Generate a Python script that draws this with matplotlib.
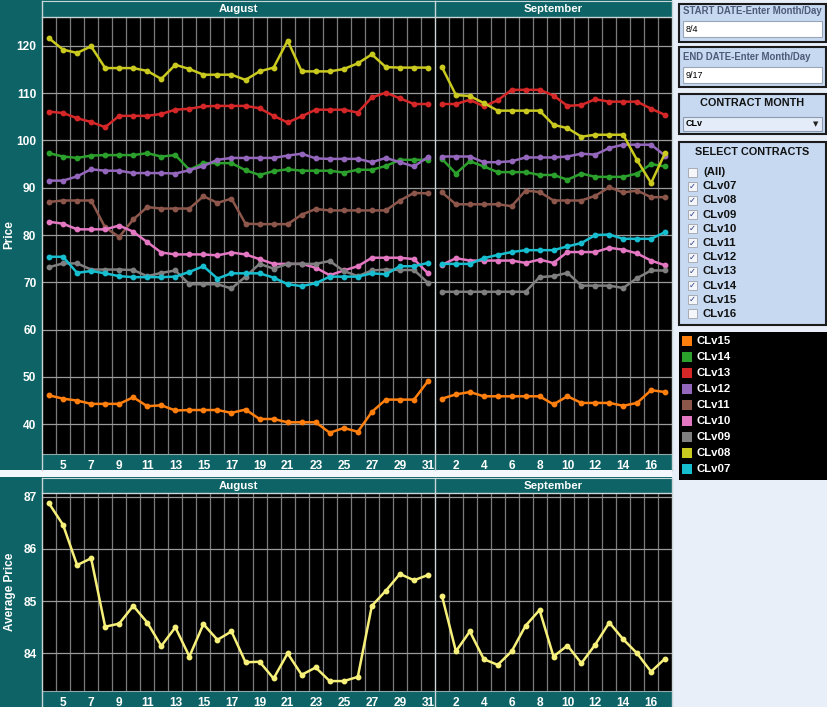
import matplotlib
matplotlib.use('Agg')
import matplotlib.pyplot as plt
from matplotlib.patches import Rectangle
from matplotlib.lines import Line2D

# ---------------- data ----------------
days_aug = list(range(4, 32))
days_sep = list(range(1, 18))
aug_ticks = list(range(5, 32, 2))
sep_ticks = list(range(2, 17, 2))
price_ticks = [40, 50, 60, 70, 80, 90, 100, 110, 120]
avg_ticks = [84, 85, 86, 87]

contracts = ['CLv15', 'CLv14', 'CLv13', 'CLv12', 'CLv11', 'CLv10', 'CLv09', 'CLv08', 'CLv07']
colors = ['#FF7F0E', '#2CA02C', '#D62728', '#9467BD', '#8C564B', '#E377C2', '#7F7F7F', '#C9C91F', '#17BECF']

clv15_aug = [46.1, 45.4, 45.0, 44.3, 44.3, 44.3, 45.7, 43.8, 44.0, 42.9, 43.0, 43.0, 43.0, 42.4,
             43.1, 41.1, 41.1, 40.4, 40.4, 40.4, 38.2, 39.2, 38.4, 42.6, 45.2, 45.2, 45.2, 49.1]
clv15_sep = [45.4, 46.3, 46.8, 45.9, 45.9, 45.9, 45.9, 45.9, 44.2, 45.9, 44.5, 44.5, 44.5, 43.9, 44.5, 47.2, 46.8]

clv14_aug = [97.3, 96.6, 96.3, 96.8, 96.9, 96.9, 96.9, 97.3, 96.6, 96.9, 93.8, 95.2, 95.2, 95.2,
             93.7, 92.7, 93.5, 93.9, 93.6, 93.6, 93.6, 93.2, 93.8, 93.8, 94.6, 95.9, 95.9, 95.9]
clv14_sep = [96.1, 93.0, 95.6, 94.5, 93.3, 93.3, 93.3, 92.7, 92.7, 91.7, 93.0, 92.3, 92.3, 92.3, 93.0, 95.0, 94.5]

clv13_aug = [106.1, 105.8, 104.7, 103.9, 102.8, 105.2, 105.2, 105.2, 105.6, 106.5, 106.7, 107.2, 107.3, 107.3,
             107.3, 106.8, 105.2, 103.8, 105.1, 106.5, 106.5, 106.5, 105.9, 109.1, 110.1, 108.9, 107.7, 107.7]
clv13_sep = [107.7, 107.7, 108.6, 107.2, 108.5, 110.7, 110.7, 110.7, 109.5, 107.3, 107.5, 108.7, 108.2, 108.2,
             108.2, 106.7, 105.4]

clv12_aug = [91.5, 91.5, 92.4, 93.9, 93.6, 93.6, 93.1, 93.1, 93.1, 93.0, 93.7, 94.6, 95.9, 96.3,
             96.3, 96.3, 96.3, 96.8, 97.2, 96.2, 96.1, 96.1, 96.1, 95.4, 96.3, 95.4, 94.5, 96.5]
clv12_sep = [96.6, 96.6, 96.6, 95.4, 95.4, 95.6, 96.4, 96.4, 96.4, 96.6, 97.2, 97.0, 98.4, 99.1, 99.1, 99.1, 96.8]

clv11_aug = [87.0, 87.3, 87.3, 87.3, 81.6, 79.6, 83.3, 85.9, 85.6, 85.6, 85.6, 88.2, 86.8, 87.7,
             82.4, 82.3, 82.3, 82.3, 84.3, 85.5, 85.2, 85.2, 85.2, 85.2, 85.2, 87.3, 88.9, 88.8]
clv11_sep = [89.0, 86.5, 86.5, 86.5, 86.5, 86.1, 89.4, 89.1, 87.3, 87.3, 87.3, 88.3, 90.1, 89.0, 89.4, 88.0, 88.0]

clv10_aug = [82.8, 82.4, 81.2, 81.2, 81.2, 82.0, 80.7, 78.5, 76.3, 75.9, 75.9, 75.9, 75.7, 76.3,
             75.9, 74.9, 73.9, 73.9, 73.9, 73.1, 71.5, 72.5, 73.4, 75.2, 75.2, 75.2, 74.9, 71.9]
clv10_sep = [73.7, 75.1, 74.6, 74.6, 74.6, 74.6, 74.1, 74.8, 74.1, 76.4, 76.4, 76.4, 77.3, 76.9, 76.1, 74.6, 73.6]

clv09_aug = [73.2, 74.0, 74.0, 72.7, 72.7, 72.7, 72.6, 71.3, 72.0, 72.5, 69.6, 69.6, 69.6, 68.7,
             71.2, 73.9, 72.9, 73.9, 73.9, 73.9, 74.5, 72.4, 71.3, 72.5, 72.7, 72.6, 72.6, 69.9]
clv09_sep = [68.0, 68.0, 68.0, 68.0, 68.0, 68.0, 68.0, 71.1, 71.3, 72.0, 69.3, 69.3, 69.3, 68.8, 70.9, 72.5, 72.5]

clv08_aug = [121.6, 119.2, 118.5, 119.9, 115.3, 115.3, 115.3, 114.7, 113.0, 116.0, 115.1, 113.9, 113.9, 113.9,
             112.8, 114.6, 115.4, 121.1, 114.6, 114.6, 114.6, 115.1, 116.3, 118.2, 115.5, 115.4, 115.4, 115.4]
clv08_sep = [115.5, 109.6, 109.4, 107.9, 106.3, 106.3, 106.3, 106.3, 103.3, 102.6, 100.8, 101.2, 101.2, 101.2,
             95.8, 91.0, 97.3]

clv07_aug = [75.4, 75.4, 72.0, 72.4, 71.9, 71.3, 71.1, 71.1, 71.1, 71.2, 72.2, 73.4, 70.8, 71.9,
             71.9, 71.9, 71.0, 69.6, 69.2, 69.8, 71.2, 71.2, 71.2, 71.9, 71.7, 73.4, 73.4, 74.1]
clv07_sep = [73.9, 73.9, 73.9, 75.1, 75.8, 76.4, 76.8, 76.8, 76.8, 77.6, 78.3, 80.0, 80.1, 79.2, 79.2, 79.2, 80.6]

avg_aug = [86.87, 86.46, 85.69, 85.82, 84.51, 84.57, 84.91, 84.59, 84.14, 84.50, 83.94, 84.56, 84.26, 84.42,
           83.83, 83.84, 83.52, 84.00, 83.59, 83.73, 83.47, 83.47, 83.55, 84.91, 85.20, 85.52, 85.40, 85.50]
avg_sep = [85.10, 84.04, 84.42, 83.89, 83.78, 84.04, 84.53, 84.83, 83.94, 84.15, 83.81, 84.17, 84.59, 84.27,
           84.00, 83.65, 83.90]

series_aug = [clv15_aug, clv14_aug, clv13_aug, clv12_aug, clv11_aug, clv10_aug, clv09_aug, clv08_aug, clv07_aug]
series_sep = [clv15_sep, clv14_sep, clv13_sep, clv12_sep, clv11_sep, clv10_sep, clv09_sep, clv08_sep, clv07_sep]

select_items = ['(All)', 'CLv07', 'CLv08', 'CLv09', 'CLv10', 'CLv11', 'CLv12', 'CLv13', 'CLv14', 'CLv15', 'CLv16']
select_checked = [False, True, True, True, True, True, True, True, True, True, False]

# ---------------- figure ----------------
W, H = 828, 707
plt.rcParams['font.family'] = ['Liberation Sans', 'DejaVu Sans']
fig = plt.figure(figsize=(W / 100, H / 100), dpi=100)
fig.patch.set_facecolor('#E8EFF9')

TEAL = '#0E6366'
SEP = '#C9D5D6'


def fx(x):
    return x / W


def fy(y):
    return 1 - y / H


def rect(x0, y0, x1, y1, **kw):
    fig.add_artist(Rectangle((fx(x0), fy(y1)), (x1 - x0) / W, (y1 - y0) / H,
                             transform=fig.transFigure, **kw))


def fline(xs, ys, **kw):
    fig.add_artist(Line2D([fx(x) for x in xs], [fy(y) for y in ys],
                          transform=fig.transFigure, **kw))


def ftext(x, y, s, **kw):
    fig.text(fx(x), fy(y), s, **kw)


def make_ax(x0, x1, y0, y1):
    return fig.add_axes([fx(x0), fy(y1), (x1 - x0) / W, (y1 - y0) / H])


# teal panels
rect(0, 0, 672, 470, fc=TEAL, ec='none', zorder=0)
rect(0, 470, 672, 477, fc='#F4F8FD', ec='none', zorder=0)
rect(0, 477, 672, 707, fc=TEAL, ec='none', zorder=0)


def style_ax(ax, days, ticks, ylim, yticks, show_y):
    ax.set_facecolor('black')
    ax.set_xlim(days[0] - 0.5, days[-1] + 0.5)
    ax.set_ylim(*ylim)
    ax.set_xticks(ticks)
    ax.set_xticks([d + 0.5 for d in days[:-1]], minor=True)
    ax.set_yticks(yticks)
    ax.grid(axis='x', which='minor', color='#7a7a7a', lw=0.9)
    ax.grid(axis='y', which='major', color='#9a9a9a', lw=0.9)
    ax.set_axisbelow(True)
    ax.tick_params(which='both', length=0, colors='white', labelsize=8.6, pad=4)
    for lab in ax.get_xticklabels() + ax.get_yticklabels():
        lab.set_fontweight('bold')
    if not show_y:
        ax.set_yticklabels([])
    for s in ax.spines.values():
        s.set_visible(False)


# ---- top chart ----
ylim_top = (33.7, 126.1)
ax_a = make_ax(42, 435, 17, 454)
ax_s = make_ax(435, 672, 17, 454)
style_ax(ax_a, days_aug, aug_ticks, ylim_top, price_ticks, True)
style_ax(ax_s, days_sep, sep_ticks, ylim_top, price_ticks, False)
for name, col, ya, ys in zip(contracts, colors, series_aug, series_sep):
    ax_a.plot(days_aug, ya, color=col, lw=1.8, marker='o', ms=3.2, label=name)
    ax_s.plot(days_sep, ys, color=col, lw=1.8, marker='o', ms=3.2)

# ---- bottom chart ----
ylim_bot = (83.28, 87.07)
bx_a = make_ax(42, 435, 493, 691)
bx_s = make_ax(435, 672, 493, 691)
style_ax(bx_a, days_aug, aug_ticks, ylim_bot, avg_ticks, True)
style_ax(bx_s, days_sep, sep_ticks, ylim_bot, avg_ticks, False)
bx_a.plot(days_aug, avg_aug, color='#F6F07A', lw=1.8, marker='o', ms=3.2)
bx_s.plot(days_sep, avg_sep, color='#F6F07A', lw=1.8, marker='o', ms=3.2)

# headers & separators
for (ytop, yhdr, yplot, yaxis, ybot) in [(1, 9, 17, 454, 470), (478, 486, 493, 691, 707)]:
    ftext(238.5, yhdr, 'August', color='white', fontsize=8.2, fontweight='bold', ha='center', va='center')
    ftext(553.5, yhdr, 'September', color='white', fontsize=8.2, fontweight='bold', ha='center', va='center')
    fline([42, 672], [yplot, yplot], color=SEP, lw=1.0)
    fline([42, 672], [ytop, ytop], color=SEP, lw=0.8)
    fline([42, 672], [yaxis, yaxis], color='#8FA9AA', lw=0.8)
    for xv in (42, 435, 672):
        fline([xv, xv], [ytop, ybot], color=SEP, lw=1.0)

ftext(9, 235, 'Price', color='white', fontsize=8.5, fontweight='bold', rotation=90, ha='center', va='center')
ftext(10, 592, 'Average Price', color='white', fontsize=8.5, fontweight='bold', rotation=90,
      ha='center', va='center')

# ---------------- right panel ----------------
BOX = '#C6D9F1'
EDGE = '#1B1B1B'
TITLE_C = '#4E5A78'

# start date
rect(679, 4, 826, 42, fc=BOX, ec=EDGE, lw=1.5)
ftext(683, 11, 'START DATE-Enter Month/Day', color=TITLE_C, fontsize=6.9, fontweight='bold', va='center')
rect(683, 21, 822, 37, fc='white', ec='#9AA6B8', lw=0.8)
ftext(686, 29, '8/4', color='black', fontsize=6.5, va='center')

# end date
rect(679, 47, 826, 87, fc=BOX, ec=EDGE, lw=1.5)
ftext(683, 57, 'END DATE-Enter Month/Day', color=TITLE_C, fontsize=6.9, fontweight='bold', va='center')
rect(683, 67, 822, 83, fc='white', ec='#9AA6B8', lw=0.8)
ftext(686, 75, '9/17', color='black', fontsize=6.5, va='center')

# contract month
rect(679, 94, 826, 134, fc=BOX, ec=EDGE, lw=1.5)
ftext(752.5, 103, 'CONTRACT MONTH', color='#111111', fontsize=7.8, fontweight='bold', ha='center', va='center')
rect(683, 117, 822, 131, fc='#E3ECF8', ec='#8E9AB0', lw=0.8)
ftext(686, 124, 'CLv', color='black', fontsize=6.5, fontweight='bold', va='center')
ftext(816, 124, '▼', color='#222222', fontsize=5, ha='center', va='center', family='DejaVu Sans')

# select contracts
rect(679, 142, 826, 325, fc=BOX, ec=EDGE, lw=1.5)
ftext(752.5, 152, 'SELECT CONTRACTS', color='#111111', fontsize=7.8, fontweight='bold', ha='center', va='center')
for i, (item, chk) in enumerate(zip(select_items, select_checked)):
    yy = 172 + i * 14.2
    rect(688, yy - 4.5, 697, yy + 4.5, fc='#F4F6F9', ec='#A8ADB5', lw=0.7)
    if chk:
        ftext(692.5, yy, '✓', color='#2A3A8A', fontsize=6, ha='center', va='center', family='DejaVu Sans')
    ftext(703, yy, item, color='#111111', fontsize=8.2, fontweight='bold', va='center')

# legend
rect(679, 332, 827, 480, fc='black', ec='none')
for i, (name, col) in enumerate(zip(contracts, colors)):
    yy = 341 + i * 16
    rect(682, yy - 5, 692, yy + 5, fc=col, ec='none')
    ftext(697, yy, name, color='white', fontsize=8.2, fontweight='bold', va='center')

fig.savefig('out.png', dpi=100, facecolor=fig.get_facecolor())
